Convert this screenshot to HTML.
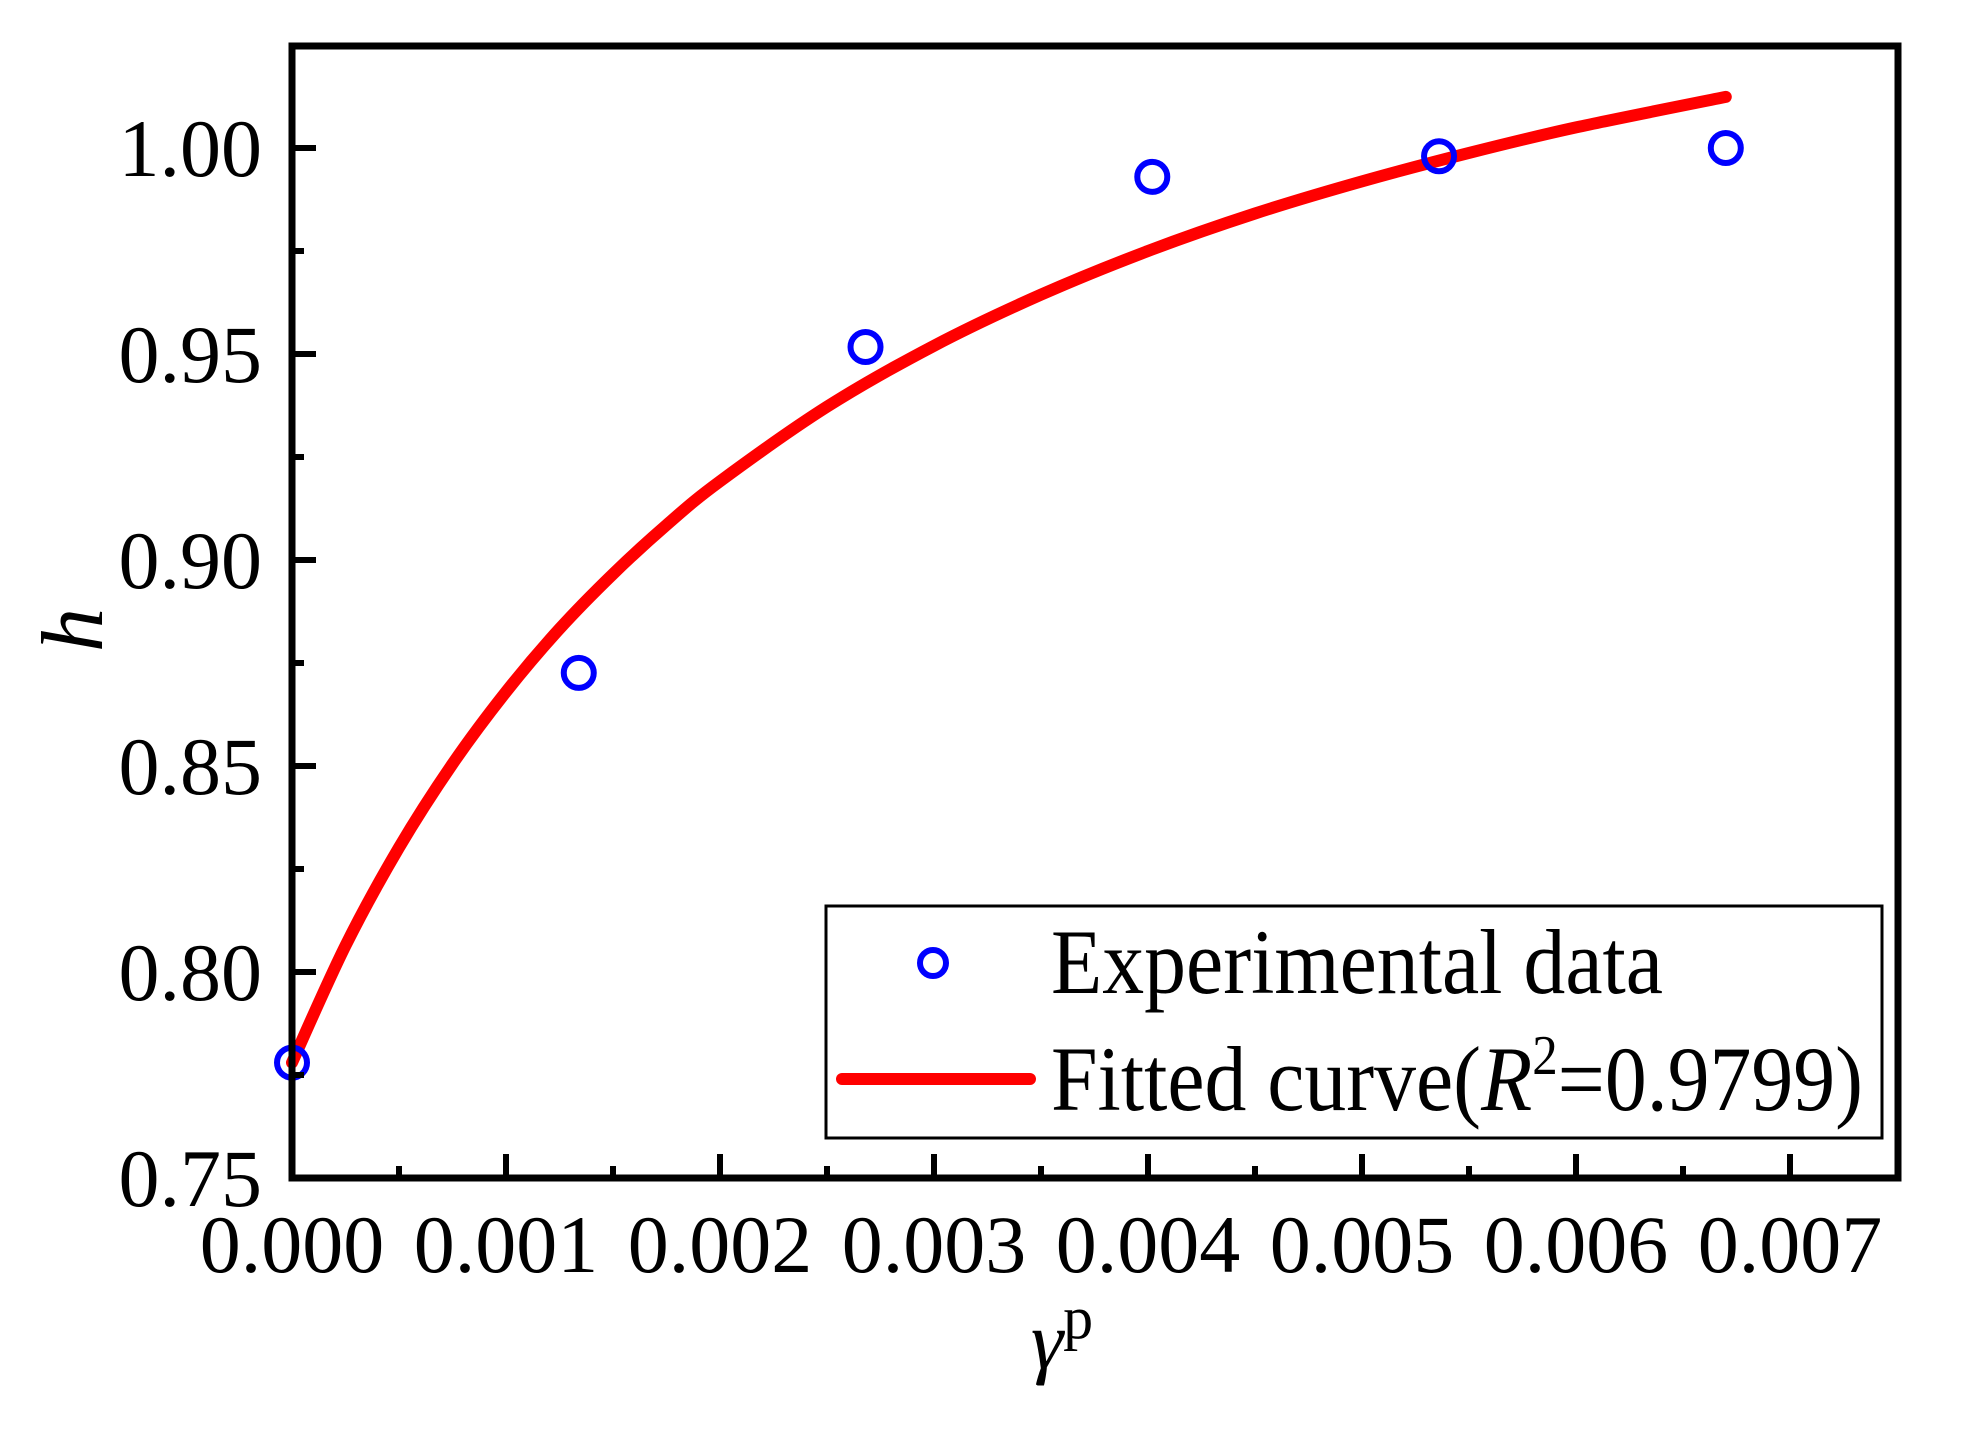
<!DOCTYPE html>
<html><head><meta charset="utf-8"><style>
html,body{margin:0;padding:0;background:#fff;}
svg{display:block;font-family:"Liberation Serif",serif;}
</style></head><body>
<svg id="chart" width="1968" height="1432" viewBox="0 0 1968 1432">
<rect x="0" y="0" width="1968" height="1432" fill="#fff"/>
<g id="plot"></g>
<g id="legend">
<rect x="826" y="906" width="1056" height="232" fill="#fff" stroke="#000" stroke-width="3"/>
<circle cx="933" cy="963" r="13" fill="none" stroke="#0000ff" stroke-width="6"/>
<text x="1051" y="993" font-size="92" textLength="612" lengthAdjust="spacingAndGlyphs">Experimental data</text>
<line x1="842" y1="1079" x2="1030" y2="1079" stroke="#ff0000" stroke-width="12" stroke-linecap="round"/>
<text x="1051" y="1110" font-size="92" textLength="812" lengthAdjust="spacingAndGlyphs">Fitted curve(<tspan font-style="italic">R</tspan><tspan font-size="56" dy="-36">2</tspan><tspan dy="36">=0.9799)</tspan></text>
</g>
<text x="0" y="0" font-size="88" font-style="italic" text-anchor="middle" transform="translate(102,630) rotate(-90)">h</text>
<text x="1062" y="1368" font-size="82" font-style="italic" text-anchor="middle">γ<tspan font-style="normal" font-size="60" dy="-30">p</tspan></text>
</svg>
<script>
const xData = [0, 0.00134, 0.00268, 0.00402, 0.00536, 0.0067];
const yData = [0.778, 0.8726, 0.9517, 0.993, 0.998, 1.000];
const fitX = [0, 0.00025, 0.0005, 0.00075, 0.001, 0.00125, 0.0015, 0.00175, 0.002, 0.0025, 0.003, 0.0035, 0.004, 0.0045, 0.005, 0.0055, 0.006, 0.0067];
const fitY = [0.778, 0.8064, 0.8302, 0.8505, 0.868, 0.8833, 0.8966, 0.9085, 0.9191, 0.9372, 0.952, 0.9644, 0.975, 0.9841, 0.9919, 0.9988, 1.005, 1.0124];
const xTicks = [0, 0.001, 0.002, 0.003, 0.004, 0.005, 0.006, 0.007];
const xTickLabels = ["0.000","0.001","0.002","0.003","0.004","0.005","0.006","0.007"];
const yTicks = [0.75, 0.80, 0.85, 0.90, 0.95, 1.00];
const yTickLabels = ["0.75","0.80","0.85","0.90","0.95","1.00"];

const NS = "http://www.w3.org/2000/svg";
const L = 292, R = 1898, T = 46, B = 1178;
const xS = v => 292 + v * 214000;
const yS = v => 148 + (1.0 - v) * 4120;
const g = document.getElementById('plot');
function mk(tag, attrs, parent) {
  const e = document.createElementNS(NS, tag);
  for (const k in attrs) e.setAttribute(k, attrs[k]);
  (parent || g).appendChild(e);
  return e;
}
const pts = fitX.map((x, i) => [xS(x), yS(fitY[i])]);
let d = `M${pts[0][0]},${pts[0][1]}`;
for (let i = 0; i < pts.length - 1; i++) {
  const p0 = pts[Math.max(0, i - 1)], p1 = pts[i], p2 = pts[i + 1], p3 = pts[Math.min(pts.length - 1, i + 2)];
  const c1 = [p1[0] + (p2[0] - p0[0]) / 6, p1[1] + (p2[1] - p0[1]) / 6];
  const c2 = [p2[0] - (p3[0] - p1[0]) / 6, p2[1] - (p3[1] - p1[1]) / 6];
  d += ` C${c1[0]},${c1[1]} ${c2[0]},${c2[1]} ${p2[0]},${p2[1]}`;
}
const curve = mk('path', {d: d, fill: 'none', stroke: '#ff0000', 'stroke-width': 12, 'stroke-linecap': 'round', 'stroke-linejoin': 'round'});


xData.forEach((x, i) => {
  const c = mk('circle', {cx: xS(x), cy: yS(yData[i]), r: 15, fill: 'none', stroke: '#0000ff', 'stroke-width': 6});
  
  
});
const frame = mk('rect', {x: L, y: T, width: R - L, height: B - T, fill: 'none', stroke: '#000', 'stroke-width': 7});


xTicks.forEach((v, i) => {
  const x = xS(v);
  const t = mk('line', {x1: x, y1: B, x2: x, y2: B - 24, stroke: '#000', 'stroke-width': 6});
  
  
  if (i < xTicks.length - 1) {
    const xm = xS((v + xTicks[i + 1]) / 2);
    const m = mk('line', {x1: xm, y1: B, x2: xm, y2: B - 12, stroke: '#000', 'stroke-width': 6});
    
    
  }
  const lb = mk('text', {x: x, y: 1272, 'font-size': 82, 'text-anchor': 'middle'});
  lb.textContent = xTickLabels[i];
  
  
});
yTicks.forEach((v, i) => {
  const y = yS(v);
  const t = mk('line', {x1: L, y1: y, x2: L + 24, y2: y, stroke: '#000', 'stroke-width': 6});
  
  
  const ym = yS(v + 0.025);
  if (ym > T + 4) {
    const m = mk('line', {x1: L, y1: ym, x2: L + 12, y2: ym, stroke: '#000', 'stroke-width': 6});
    
    
  }
  const lb = mk('text', {x: 262, y: y + 28, 'font-size': 82, 'text-anchor': 'end'});
  lb.textContent = yTickLabels[i];
  
  
});
</script>
</body></html>
